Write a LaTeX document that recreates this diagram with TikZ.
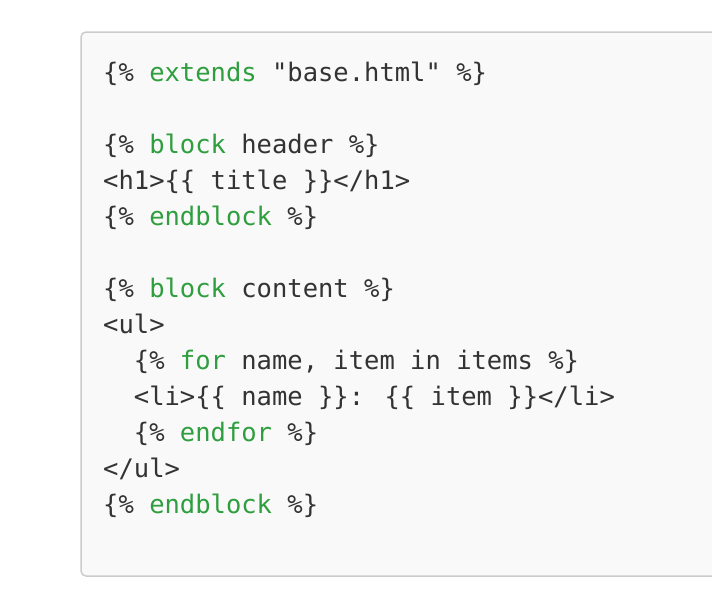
\documentclass[tikz,border=0pt]{standalone}
\usepackage{fontspec}
\usepackage{xcolor}
\usetikzlibrary{calc}
\newfontfamily\codefont{DejaVu Sans Mono}
\definecolor{kwgreen}{HTML}{2E9E3E}
\definecolor{codetext}{HTML}{333333}
\definecolor{boxfill}{HTML}{F9F9F9}
\definecolor{boxedge}{HTML}{CCCCCC}
\newcommand{\kw}[1]{\textcolor{kwgreen}{#1}}
\newcommand{\ind}{\phantom{xx}}

\begin{document}
\begin{tikzpicture}[x=1pt,y=-1pt,
    codeline/.style={anchor=base west, inner sep=0pt, text=codetext,
      font=\codefont\fontsize{25.5}{36}\selectfont}]
  \useasboundingbox (0,0) rectangle (712,608);
  \clip (0,0) rectangle (712,608);
  % The code box, open on the right
  \filldraw[fill=boxfill, draw=boxedge, line width=1.5pt, rounded corners=5pt]
    (716,32) -- (81,32) -- (81,576) -- (716,576);

  % The template lines, one baseline every 36 units
  \coordinate (L) at (103,81.7);
  \node[codeline] (l1)  at ($(L)+(0,0)$)   {\{\% \kw{extends} "base.html" \%\}};
  \node[codeline] (l3)  at ($(L)+(0,72)$)  {\{\% \kw{block} header \%\}};
  \node[codeline] (l4)  at ($(L)+(0,108)$) {<h1>\{\{ title \}\}</h1>};
  \node[codeline] (l5)  at ($(L)+(0,144)$) {\{\% \kw{endblock} \%\}};
  \node[codeline] (l7)  at ($(L)+(0,216)$) {\{\% \kw{block} content \%\}};
  \node[codeline] (l8)  at ($(L)+(0,252)$) {<ul>};
  \node[codeline] (l9)  at ($(L)+(0,288)$) {\ind\{\% \kw{for} name, item in items \%\}};
  \node[codeline] (l10) at ($(L)+(0,324)$) {\ind<li>\{\{ name \}\}: \{\{ item \}\}</li>};
  \node[codeline] (l11) at ($(L)+(0,360)$) {\ind\{\% \kw{endfor} \%\}};
  \node[codeline] (l12) at ($(L)+(0,396)$) {</ul>};
  \node[codeline] (l13) at ($(L)+(0,432)$) {\{\% \kw{endblock} \%\}};
\end{tikzpicture}
\end{document}
